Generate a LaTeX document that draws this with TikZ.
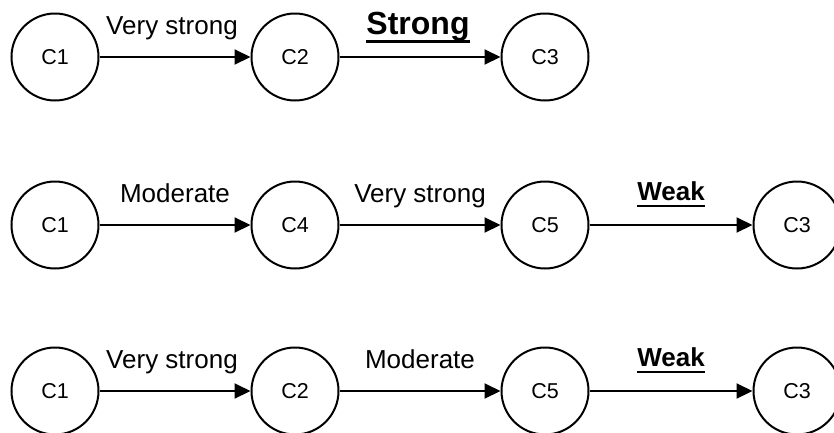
\documentclass[tikz,border=0pt]{standalone}
\usepackage{fontspec}
\setmainfont{Liberation Sans}
\usetikzlibrary{arrows.meta}
% thick underline drawn just below the descenders
\newcommand\thickul[1]{\setbox0\hbox{#1}\rlap{\rule[-0.28em]{\wd0}{0.1em}}\box0}
\begin{document}
\begin{tikzpicture}[x=1pt,y=-1pt,
  concept/.style={circle,draw,line width=2pt,minimum size=87pt,inner sep=0pt,
    font=\fontsize{21.5}{24}\selectfont},
  arr/.style={line width=2pt,-{Triangle[length=16pt,width=15pt]}},
  lbl/.style={anchor=base,yshift=23pt,inner sep=0pt,font=\fontsize{26}{28}\selectfont},
  strong/.style={lbl,font=\bfseries\fontsize{32}{36}\selectfont},
  weak/.style={lbl,yshift=2pt,font=\bfseries\fontsize{26}{30}\selectfont}]
\useasboundingbox (0,0) rectangle (834,432);
\clip (0,0) rectangle (834,432);

% first chain
\node[concept] (a1) at (55,57) {C1};
\node[concept] (a2) at (295,57) {C2};
\node[concept] (a3) at (545,57) {C3};
\draw[arr] (a1) -- node[lbl,xshift=-3pt]{Very strong} (a2);
\draw[arr] (a2) -- node[strong,xshift=-2pt]{\thickul{Strong}} (a3);

% second chain
\node[concept] (b1) at (55,225) {C1};
\node[concept] (b2) at (295,225) {C4};
\node[concept] (b3) at (545,225) {C5};
\node[concept] (b4) at (797,225) {C3};
\draw[arr] (b1) -- node[lbl]{Moderate} (b2);
\draw[arr] (b2) -- node[lbl]{Very strong} (b3);
\draw[arr] (b3) -- node[weak]{\thickul{Weak}} (b4);

% third chain
\node[concept] (c1) at (55,391) {C1};
\node[concept] (c2) at (295,391) {C2};
\node[concept] (c3) at (545,391) {C5};
\node[concept] (c4) at (797,391) {C3};
\draw[arr] (c1) -- node[lbl,xshift=-3pt]{Very strong} (c2);
\draw[arr] (c2) -- node[lbl]{Moderate} (c3);
\draw[arr] (c3) -- node[weak]{\thickul{Weak}} (c4);
\end{tikzpicture}
\end{document}
